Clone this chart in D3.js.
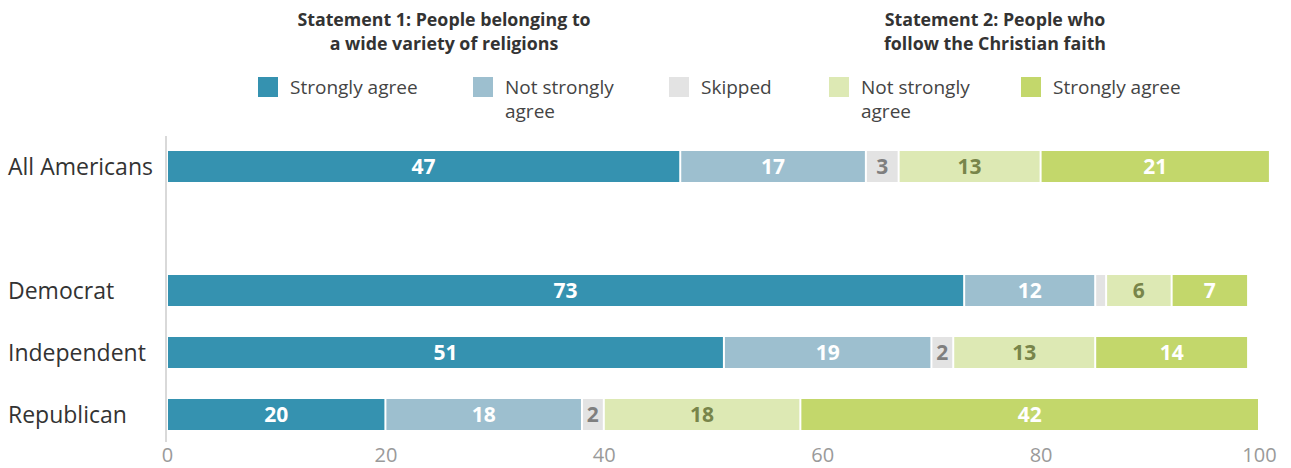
<!DOCTYPE html>
<html><head><meta charset="utf-8">
<script src="https://cdn.jsdelivr.net/npm/d3@7"></script>
<style>body{margin:0;background:#fff}svg{display:block;font-family:"Open Sans",sans-serif}</style>
</head><body><svg id="c" width="1291" height="468"></svg>
<script>
const categories = ["All Americans", "Democrat", "Independent", "Republican"];
const rowKeys = ["All Americans", "_gap", "Democrat", "Independent", "Republican"];
const seriesNames = ["Strongly agree (S1)", "Not strongly agree (S1)", "Skipped", "Not strongly agree (S2)", "Strongly agree (S2)"];
const s1Strong = [47, 73, 51, 20];
const s1NotStrong = [17, 12, 19, 18];
const skipped = [3, 1, 2, 2];
const s2NotStrong = [13, 6, 13, 18];
const s2Strong = [21, 7, 14, 42];
const tickValues = [0, 20, 40, 60, 80, 100];
const legendLabels = [["Strongly agree"], ["Not strongly", "agree"], ["Skipped"], ["Not strongly", "agree"], ["Strongly agree"]];
const titles = [["Statement 1: People belonging to", "a wide variety of religions"], ["Statement 2: People who", "follow the Christian faith"]];

const colors = ["#3592b0", "#9dbfcf", "#e3e3e3", "#dde9b4", "#c3d76b"];
const labelColors = ["#ffffff", "#ffffff", "#7f7f7f", "#78854a", "#ffffff"];
const series = [s1Strong, s1NotStrong, skipped, s2NotStrong, s2Strong];

const svg = d3.select("#c");
const x = d3.scaleLinear().domain([0, 100]).range([167, 1259]);
const y = d3.scaleBand().domain(rowKeys).range([135.5, 445.5]).paddingInner(0.5).paddingOuter(0.25);

// titles
const titleX = [444, 995];
titles.forEach((t, i) => {
  t.forEach((line, j) => {
    svg.append("text").attr("x", titleX[i]).attr("y", 26 + j * 24)
      .attr("text-anchor", "middle").attr("font-size", 17.8).attr("font-weight", 700)
      .attr("fill", "#333").text(line);
  });
});

// legend
const legX = [258, 473, 669, 829, 1021];
legendLabels.forEach((lab, i) => {
  svg.append("rect").attr("x", legX[i]).attr("y", 77).attr("width", 20).attr("height", 20).attr("fill", colors[i]);
  lab.forEach((line, j) => {
    svg.append("text").attr("x", legX[i] + 32).attr("y", 94 + j * 24)
      .attr("font-size", 19).attr("fill", "#444").text(line);
  });
});

// axis line
svg.append("line").attr("x1", 166).attr("x2", 166).attr("y1", 136).attr("y2", 442)
  .attr("stroke", "#d9d9d9").attr("stroke-width", 2);

// stacked data
const rows = categories.map((c, ci) => {
  let acc = 0;
  return series.map((s, si) => {
    const d = { cat: c, si, v: s[ci], x0: acc, x1: acc + s[ci] };
    acc += s[ci];
    return d;
  });
});

const g = svg.append("g");
rows.forEach(r => {
  const rg = g.append("g");
  rg.selectAll("rect").data(r).join("rect")
    .attr("x", d => x(d.x0) + 1)
    .attr("width", d => Math.max(0, x(d.x1) - x(d.x0) - 2))
    .attr("y", d => y(d.cat))
    .attr("height", y.bandwidth())
    .attr("fill", d => colors[d.si]);
  rg.selectAll("text").data(r.filter(d => d.v >= 2)).join("text")
    .attr("x", d => (x(d.x0) + x(d.x1)) / 2)
    .attr("y", d => y(d.cat) + y.bandwidth() / 2)
    .attr("dy", "0.36em")
    .attr("text-anchor", "middle")
    .attr("font-size", 21).attr("font-weight", 700)
    .attr("fill", d => labelColors[d.si])
    .text(d => d.v);
});

// category labels
svg.selectAll("text.cat").data(categories).join("text").attr("class", "cat")
  .attr("x", 8).attr("y", d => y(d) + y.bandwidth() / 2).attr("dy", "0.36em")
  .attr("font-size", 23).attr("fill", "#333").text(d => d);

// x axis
const ax = svg.append("g").attr("transform", "translate(0,442)")
  .call(d3.axisBottom(x).tickValues(tickValues).tickSize(0).tickPadding(6));
ax.select(".domain").remove();
ax.selectAll("text").attr("font-size", 20).attr("fill", "#9a9a9a").attr("font-family", "Open Sans, sans-serif").attr("dy", "0.71em");
</script></body></html>
